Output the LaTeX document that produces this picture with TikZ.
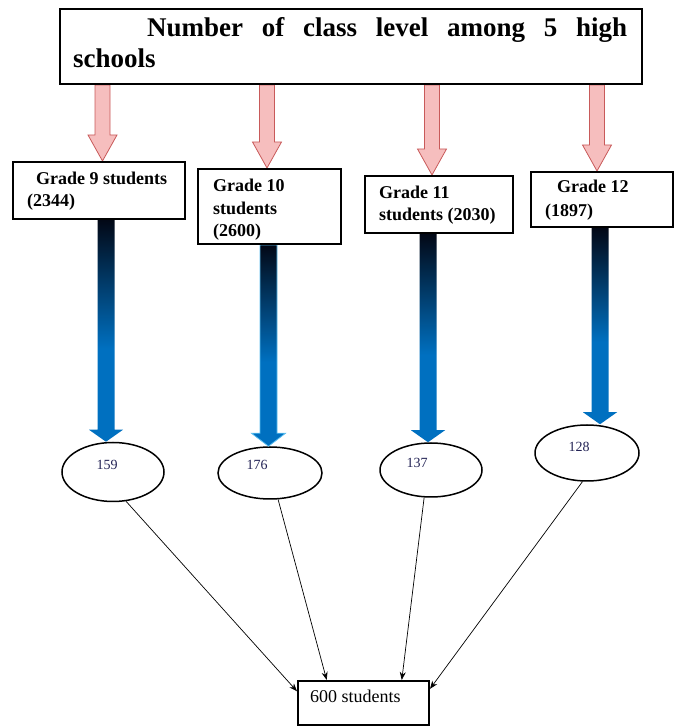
\documentclass[tikz,border=0pt]{standalone}
\usepackage{fontspec}
\setmainfont{Liberation Serif}
\usetikzlibrary{calc,shapes.geometric,arrows.meta}
\definecolor{pinkfill}{RGB}{246,190,190}
\definecolor{pinkline}{RGB}{200,90,90}
\definecolor{bluec}{RGB}{0,112,192}
\definecolor{darkc}{RGB}{2,8,22}
\definecolor{numc}{RGB}{35,35,85}
\definecolor{lightedge}{RGB}{90,190,240}
\pgfdeclareverticalshading{bluedown}{100bp}{color(0bp)=(bluec); color(25bp)=(bluec); color(46bp)=(bluec); color(75bp)=(darkc); color(100bp)=(darkc)}
\newcommand\fatarrow[6]{\path[#1] ($(#2)+(-#4,0)$) -- ($(#3)+(-#4,#6)$) -- ($(#3)+(-#5,#6)$) -- (#3) -- ($(#3)+(#5,#6)$) -- ($(#3)+(#4,#6)$) -- ($(#2)+(#4,0)$) -- cycle;}
\begin{document}
\begin{tikzpicture}[x=1pt,y=1pt,
  box/.style={draw, line width=2pt, fill=white, inner sep=0},
  ell/.style={ellipse, draw, line width=1.5pt, inner sep=0, fill=white},
  ttext/.style={font=\fontsize{27}{30}\selectfont\bfseries, inner sep=0},
  gtext/.style={font=\fontsize{18}{20}\selectfont\bfseries, inner sep=0, anchor=base west},
  ntext/.style={font=\fontsize{14}{16}\selectfont, text=numc, inner sep=0},
  pinkarrow/.style={fill=pinkfill, draw=pinkline, line width=0.8pt},
  bluearrow/.style={shading=bluedown},
  link/.style={-{Stealth[length=8pt,width=6pt]}, line width=0.7pt}]
\useasboundingbox (0,0) rectangle (677,727);
% column coordinates
\coordinate (p9) at (102.5,0);
\coordinate (p10) at (267,0);
\coordinate (p11) at (432,0);
\coordinate (p12) at (597,0);
\coordinate (q9) at (106,0);
\coordinate (q10) at (268.5,0);
\coordinate (q11) at (428,0);
\coordinate (q12) at (600,0);
% nodes (positions)
\path (351,680.5) node[box, minimum width=582, minimum height=75] (t) {};
\path (99,536.5) node[box, minimum width=172, minimum height=57] (g9) {};
\path (269.5,520.5) node[box, minimum width=143, minimum height=75] (g10) {};
\path (439,522.5) node[box, minimum width=148, minimum height=57] (g11) {};
\path (602,527.5) node[box, minimum width=142, minimum height=55] (g12) {};
\path (113,255) node[ell, minimum width=102, minimum height=59] (e1) {};
\path (270,254) node[ell, minimum width=104, minimum height=52] (e2) {};
\path (431,257) node[ell, minimum width=102, minimum height=54] (e3) {};
\path (587,274) node[ell, minimum width=104, minimum height=56] (e4) {};
\path (363.5,24) node[box, minimum width=131, minimum height=44] (b) {};
% pink arrows
\fatarrow{pinkarrow}{t.south -| p9}{g9.north -| p9}{7.5}{14.5}{26}
\fatarrow{pinkarrow}{t.south -| p10}{g10.north -| p10}{7.5}{14.5}{26}
\fatarrow{pinkarrow}{t.south -| p11}{g11.north -| p11}{7.5}{14.5}{26}
\fatarrow{pinkarrow}{t.south -| p12}{g12.north -| p12}{7.5}{14.5}{26}
% blue arrows
\fatarrow{bluearrow}{g9.south -| q9}{e1.north -| q9}{8.5}{17}{12}
\fatarrow{bluearrow,draw=lightedge,line width=0.8pt}{g10.south -| q10}{e2.north -| q10}{8.5}{17}{13}
\fatarrow{bluearrow}{g11.south -| q11}{e3.north -| q11}{8.5}{17}{12}
\fatarrow{bluearrow}{g12.south -| q12}{e4.north -| q12}{8.5}{17}{12}
% redraw boxes over arrow ends
\path (351,680.5) node[box, minimum width=582, minimum height=75] (t) {};
\path (99,536.5) node[box, minimum width=172, minimum height=57] (g9) {};
\path (269.5,520.5) node[box, minimum width=143, minimum height=75] (g10) {};
\path (439,522.5) node[box, minimum width=148, minimum height=57] (g11) {};
\path (602,527.5) node[box, minimum width=142, minimum height=55] (g12) {};
% title
\node[ttext, anchor=base west] (tl1) at (147,690) {\makebox[480pt][s]{Number of class level among 5 high}};
\node[ttext, anchor=base west] (tl2) at (73,659) {schools};
% grade texts
\node[gtext] (g9a) at (36,542) {Grade 9 students};
\node[gtext] (g9b) at (27,520) {(2344)};
\node[gtext] (g10a) at (213,535) {Grade 10};
\node[gtext] (g10b) at (213,512) {students};
\node[gtext] (g10c) at (213,490) {(2600)};
\node[gtext] (g11a) at (379,528) {Grade 11};
\node[gtext] (g11b) at (379,506) {students (2030)};
\node[gtext] (g12a) at (557,534) {Grade 12};
\node[gtext] (g12b) at (545,510) {(1897)};
% numbers
\node[ntext] (n1) at (107,262) {159};
\node[ntext] (n2) at (257,262) {176};
\node[ntext] (n3) at (417,264) {137};
\node[ntext] (n4) at (579,280) {128};
% bottom text
\node[font=\fontsize{18}{20}\selectfont, inner sep=0, anchor=base west] (bt) at (310,24) {600 students};
% links
\draw[link] (e1.-66) -- (b.170.5);
\draw[link] (e2.-73) -- (b.148.9);
\draw[link] (e3.-104) -- (b.31.8);
\draw[link] (e4.-99) -- (b.12.2);
\end{tikzpicture}
\end{document}
